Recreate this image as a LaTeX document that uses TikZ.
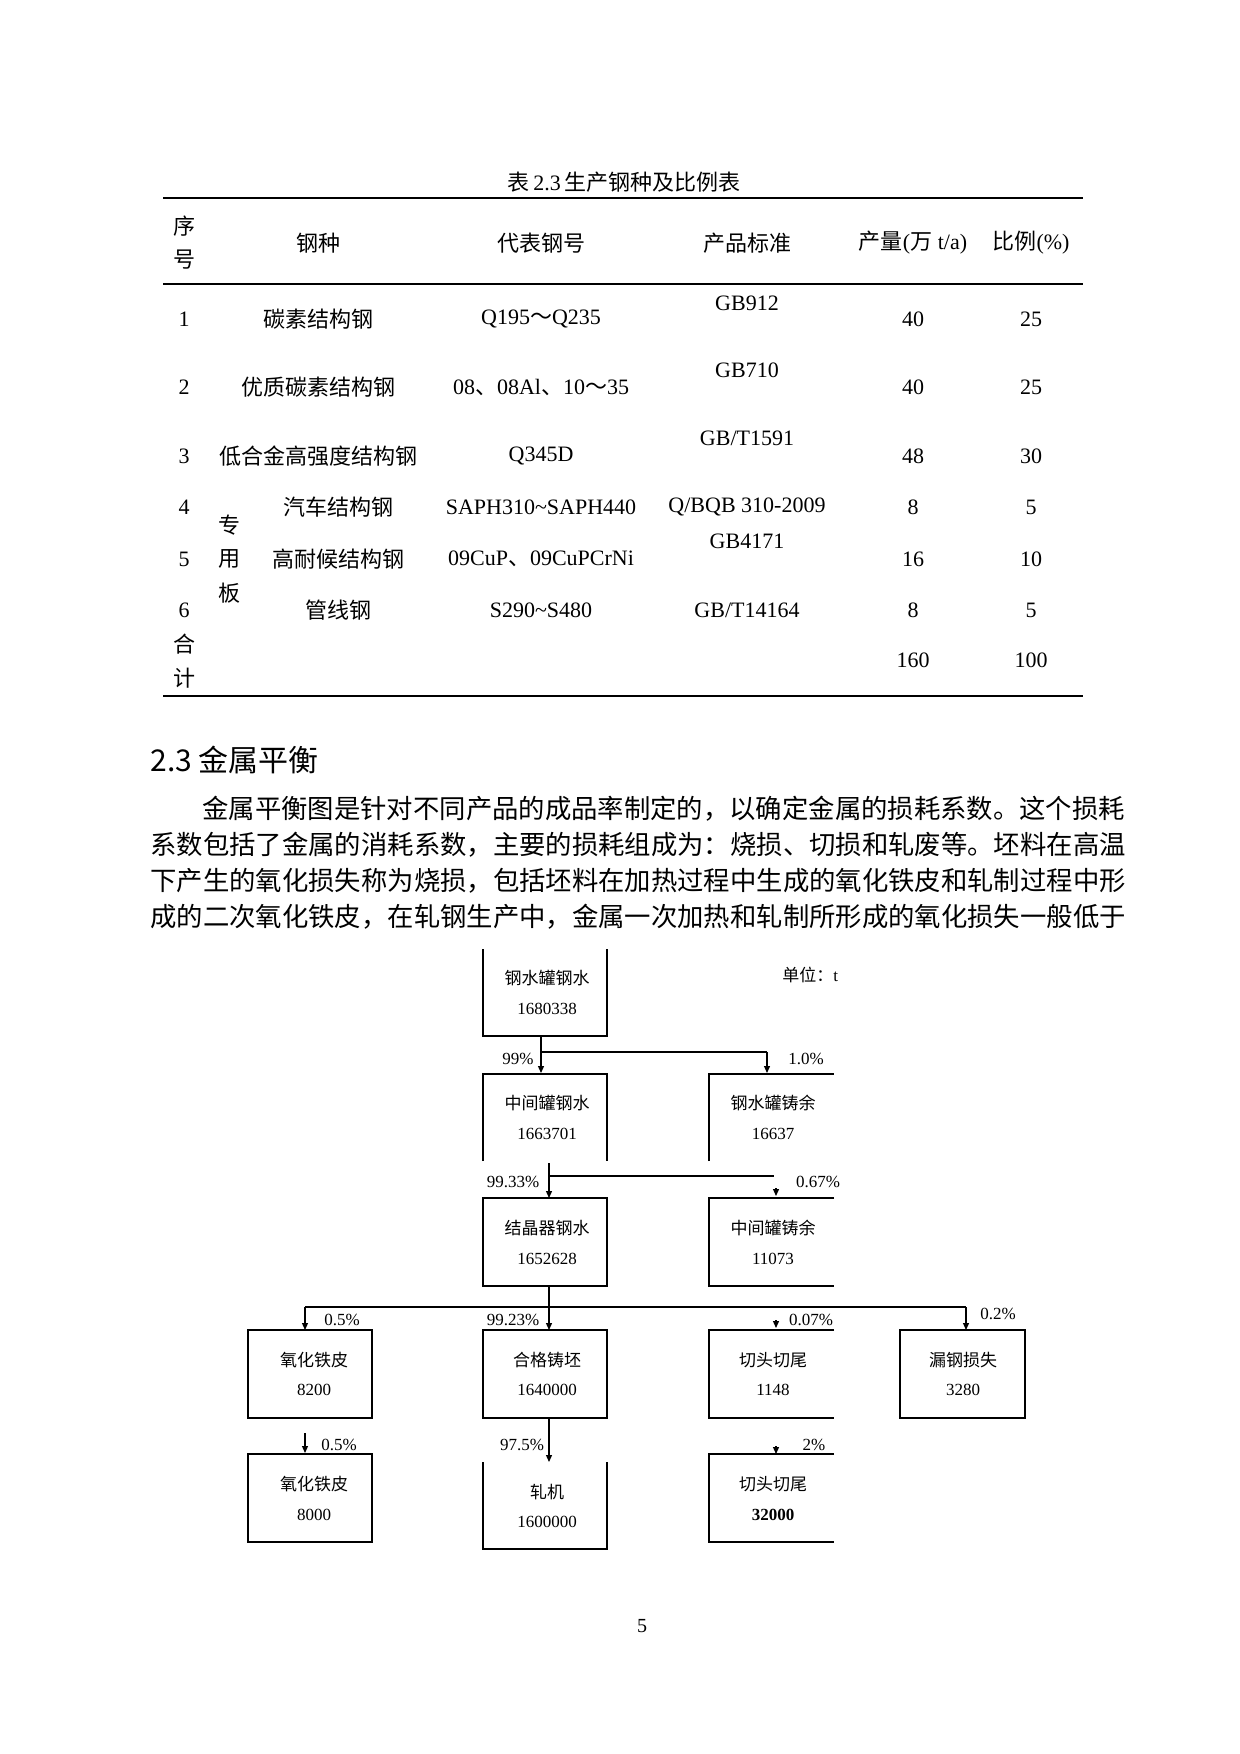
\documentclass[tikz,border=0pt]{standalone}
\usepackage{fontspec}
\setmainfont{Liberation Serif}
\newfontfamily\cjk{Noto Sans CJK SC}
\usetikzlibrary{arrows.meta}
\newcommand{\zh}[1]{{\cjk #1}}
\begin{document}
\begin{tikzpicture}[x=0.5pt,y=-0.5pt,
  tb/.style={font=\fontsize{11}{13}\selectfont,inner sep=0pt,anchor=center},
  bx/.style={font=\fontsize{8.5}{10}\selectfont,inner sep=0pt,anchor=center},
  lb/.style={font=\fontsize{8.5}{10}\selectfont,inner sep=0pt,anchor=center},
  ln/.style={line width=0.6pt},
  ar/.style={line width=0.6pt,-{Triangle[length=3.5pt,width=3pt]}},
  para/.style={font=\cjk\fontsize{13.18}{16}\selectfont,inner sep=0pt,anchor=west}]
\useasboundingbox (0,0) rectangle (1240,1754);
\fill[white] (0,0) rectangle (1240,1754);
% ---------- table ----------
\node[tb] (title) at (624,182) {\zh{表}\,2.3\,\zh{生产钢种及比例表}};
\draw[line width=1.3pt] (163,198) -- (1083,198);
\draw[line width=1pt] (163,284) -- (1083,284);
\draw[line width=1.3pt] (163,696) -- (1083,696);
\node[tb] (h1a) at (184,226) {\zh{序}};
\node[tb] (h1b) at (184,260) {\zh{号}};
\node[tb] (h2) at (318,243) {\zh{钢种}};
\node[tb] (h3) at (541,243) {\zh{代表钢号}};
\node[tb] (h4) at (747,243) {\zh{产品标准}};
\node[tb] (h5) at (913,243) {\zh{产量}(\zh{万} t/a)};
\node[tb] (h6) at (1031,243) {\zh{比例}(\%)};
% rows
\node[tb] (r1a) at (184,319) {1};
\node[tb] (r1b) at (318,319) {\zh{碳素结构钢}};
\node[tb] (r1c) at (541,319) {Q195\zh{～}Q235};
\node[tb] (r1d) at (747,303) {GB912};
\node[tb] (r1e) at (913,319) {40};
\node[tb] (r1f) at (1031,319) {25};
\node[tb] (r2a) at (184,387) {2};
\node[tb] (r2b) at (318,387) {\zh{优质碳素结构钢}};
\node[tb] (r2c) at (541,387) {08\zh{、}08Al\zh{、}10\zh{～}35};
\node[tb] (r2d) at (747,370) {GB710};
\node[tb] (r2e) at (913,387) {40};
\node[tb] (r2f) at (1031,387) {25};
\node[tb] (r3a) at (184,456) {3};
\node[tb] (r3b) at (318,456) {\zh{低合金高强度结构钢}};
\node[tb] (r3c) at (541,456) {Q345D};
\node[tb] (r3d) at (747,438) {GB/T1591};
\node[tb] (r3e) at (913,456) {48};
\node[tb] (r3f) at (1031,456) {30};
\node[tb] (r4a) at (184,507) {4};
\node[tb] (r4b) at (338,507) {\zh{汽车结构钢}};
\node[tb] (r4c) at (541,507) {SAPH310\textasciitilde SAPH440};
\node[tb] (r4d) at (747,507) {Q/BQB 310-2009};
\node[tb] (r4e) at (913,507) {8};
\node[tb] (r4f) at (1031,507) {5};
\node[tb] (zy1) at (229,525) {\zh{专}};
\node[tb] (zy2) at (229,559) {\zh{用}};
\node[tb] (zy3) at (229,593) {\zh{板}};
\node[tb] (r5a) at (184,559) {5};
\node[tb] (r5b) at (338,559) {\zh{高耐候结构钢}};
\node[tb] (r5c) at (541,559) {09CuP\zh{、}09CuPCrNi};
\node[tb] (r5d) at (747,541) {GB4171};
\node[tb] (r5e) at (913,559) {16};
\node[tb] (r5f) at (1031,559) {10};
\node[tb] (r6a) at (184,610) {6};
\node[tb] (r6b) at (338,610) {\zh{管线钢}};
\node[tb] (r6c) at (541,610) {S290\textasciitilde S480};
\node[tb] (r6d) at (747,610) {GB/T14164};
\node[tb] (r6e) at (913,610) {8};
\node[tb] (r6f) at (1031,610) {5};
\node[tb] (t1) at (184,644) {\zh{合}};
\node[tb] (t2) at (184,678) {\zh{计}};
\node[tb] (t3) at (913,660) {160};
\node[tb] (t4) at (1031,660) {100};
% ---------- section ----------
\node[font=\cjk\fontsize{15}{18}\selectfont,inner sep=0pt,anchor=west] (sec) at (150,760) {2.3\ 金属平衡};
\node[para] (p1) at (202,809) {金属平衡图是针对不同产品的成品率制定的，以确定金属的损耗系数。这个损耗};
\node[para] (p2) at (150,845) {系数包括了金属的消耗系数，主要的损耗组成为：烧损、切损和轧废等。坯料在高温};
\node[para] (p3) at (150,881) {下产生的氧化损失称为烧损，包括坯料在加热过程中生成的氧化铁皮和轧制过程中形};
\node[para] (p4) at (150,917) {成的二次氧化铁皮，在轧钢生产中，金属一次加热和轧制所形成的氧化损失一般低于};
% ---------- diagram ----------
% row 1
\draw[ln] (483,949) -- (483,1036) -- (607,1036) -- (607,949);
\node[bx] (b1a) at (547,978) {\zh{钢水罐钢水}};
\node[bx] (b1b) at (547,1009) {1680338};
\node[bx,anchor=west] (unit) at (782,975) {\zh{单位：}t};
% row 2
\draw[ln] (483,1161) -- (483,1074) -- (607,1074) -- (607,1161);
\node[bx] (b2a) at (547,1103) {\zh{中间罐钢水}};
\node[bx] (b2b) at (547,1134) {1663701};
\draw[ln] (709,1161) -- (709,1074) -- (834,1074);
\node[bx] (b3a) at (773,1103) {\zh{钢水罐铸余}};
\node[bx] (b3b) at (773,1134) {16637};
% connector 1
\coordinate (c1s) at (541,1036);
\coordinate (c1j) at (541,1052);
\coordinate (c1r) at (767,1052);
\coordinate (c1a) at (541,1073);
\coordinate (c1b) at (767,1073);
\draw[ln] (c1s) -- (c1j) -- (c1r);
\draw[ar] (c1j) -- (c1a);
\draw[ar] (c1r) -- (c1b);
\node[lb] (l99) at (518,1059) {99\%};
\node[lb] (l10) at (806,1059) {1.0\%};
% connector 2
\coordinate (c2s) at (549,1163);
\coordinate (c2j) at (549,1176);
\coordinate (c2r) at (774,1176);
\coordinate (c2a) at (549,1198);
\draw[ln] (c2s) -- (c2j) -- (c2r);
\draw[ar] (c2j) -- (c2a);
\draw[ar] (776,1188) -- (776,1196);
\node[lb] (l9933) at (513,1182) {99.33\%};
\node[lb] (l067) at (818,1182) {0.67\%};
% row 3
\draw[ln] (483,1198) rectangle (607,1286);
\node[bx] (b4a) at (547,1228) {\zh{结晶器钢水}};
\node[bx] (b4b) at (547,1259) {1652628};
\draw[ln] (834,1198) -- (709,1198) -- (709,1286) -- (834,1286);
\node[bx] (b5a) at (773,1228) {\zh{中间罐铸余}};
\node[bx] (b5b) at (773,1259) {11073};
% connector 3
\coordinate (c3s) at (549,1286);
\coordinate (c3j) at (549,1307);
\coordinate (c3l) at (305,1307);
\coordinate (c3r) at (966,1307);
\draw[ln] (c3s) -- (c3j);
\draw[ln] (c3l) -- (c3r);
\draw[ar] (c3j) -- (549,1330);
\draw[ar] (c3l) -- (305,1330);
\draw[ar] (c3r) -- (966,1330);
\draw[ar] (776,1320) -- (776,1328);
\node[lb] (l05a) at (342,1320) {0.5\%};
\node[lb] (l9923) at (513,1320) {99.23\%};
\node[lb] (l007) at (811,1320) {0.07\%};
\node[lb] (l02) at (998,1314) {0.2\%};
% row 4
\draw[ln] (248,1330) rectangle (372,1418);
\node[bx] (b6a) at (314,1360) {\zh{氧化铁皮}};
\node[bx] (b6b) at (314,1390) {8200};
\draw[ln] (483,1330) rectangle (607,1418);
\node[bx] (b7a) at (547,1360) {\zh{合格铸坯}};
\node[bx] (b7b) at (547,1390) {1640000};
\draw[ln] (834,1330) -- (709,1330) -- (709,1418) -- (834,1418);
\node[bx] (b8a) at (773,1360) {\zh{切头切尾}};
\node[bx] (b8b) at (773,1390) {1148};
\draw[ln] (900,1330) rectangle (1025,1418);
\node[bx] (b9a) at (963,1360) {\zh{漏钢损失}};
\node[bx] (b9b) at (963,1390) {3280};
% row 5 connectors
\draw[ar] (305,1433) -- (305,1453);
\node[lb] (l05b) at (339,1445) {0.5\%};
\draw[ar] (549,1418) -- (549,1462);
\node[lb] (l975) at (522,1445) {97.5\%};
\draw[ar] (776,1446) -- (776,1454);
\node[lb] (l2) at (814,1445) {2\%};
% row 5
\draw[ln] (248,1454) rectangle (372,1542);
\node[bx] (b10a) at (314,1484) {\zh{氧化铁皮}};
\node[bx] (b10b) at (314,1515) {8000};
\draw[ln] (483,1462) -- (483,1549) -- (607,1549) -- (607,1462);
\node[bx] (b11a) at (547,1492) {\zh{轧机}};
\node[bx] (b11b) at (547,1522) {1600000};
\draw[ln] (834,1454) -- (709,1454) -- (709,1542) -- (834,1542);
\node[bx] (b12a) at (773,1484) {\zh{切头切尾}};
\node[bx] (b12b) at (773,1515) {\textbf{32000}};
% page number
\node[font=\fontsize{10}{12}\selectfont,inner sep=0pt] (pg) at (642,1626) {5};
\end{tikzpicture}
\end{document}
